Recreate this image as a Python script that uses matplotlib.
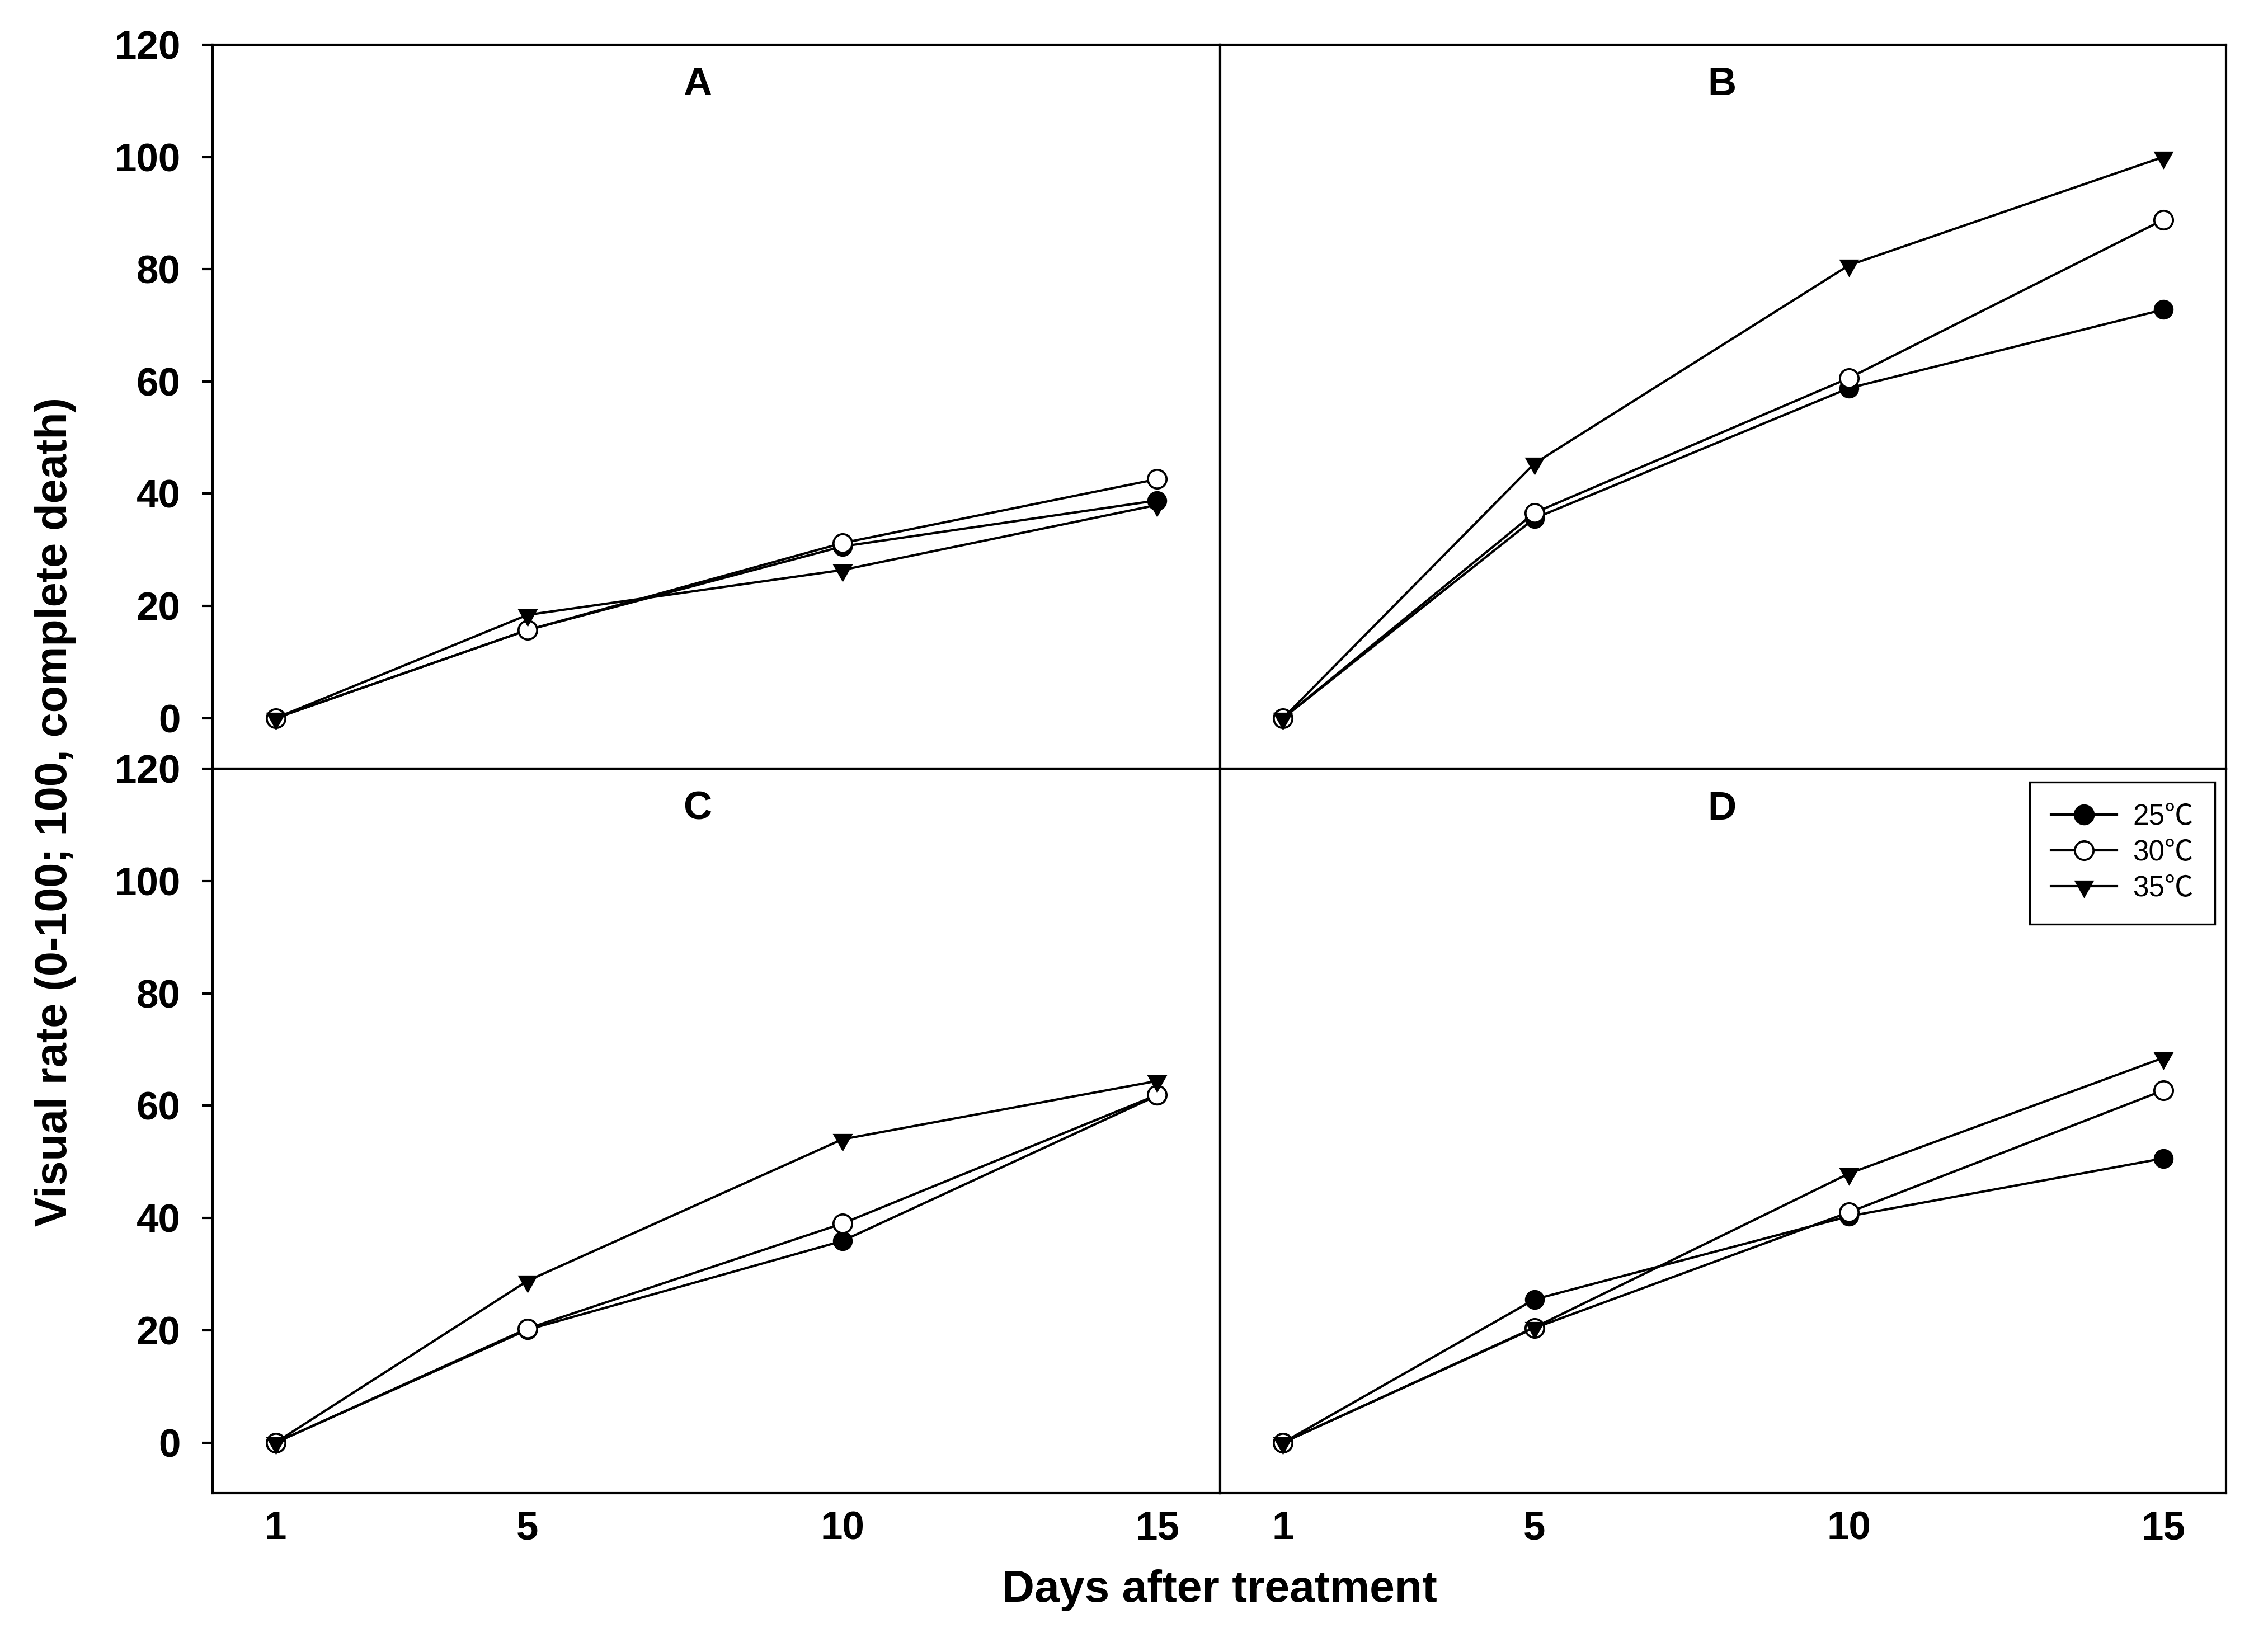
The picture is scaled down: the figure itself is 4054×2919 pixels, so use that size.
import matplotlib
matplotlib.use('Agg')
import matplotlib.pyplot as plt
from matplotlib.lines import Line2D

# days after treatment
days = [1, 5, 10, 15]

# visual rate for each panel, per temperature
a_25 = [0, 15.7, 30.6, 38.8]
a_30 = [0, 15.7, 31.2, 42.6]
a_35 = [0, 18.4, 26.4, 38.0]

b_25 = [0, 35.6, 58.8, 72.8]
b_30 = [0, 36.6, 60.6, 88.8]
b_35 = [0, 45.4, 80.7, 100.0]

c_25 = [0, 20.1, 35.9, 61.8]
c_30 = [0, 20.3, 39.0, 61.9]
c_35 = [0, 28.8, 54.0, 64.4]

d_25 = [0, 25.5, 40.3, 50.6]
d_30 = [0, 20.4, 41.0, 62.7]
d_35 = [0, 20.5, 47.9, 68.5]

panel_names = ['A', 'B', 'C', 'D']
temp_labels = ['25℃', '30℃', '35℃']
y_ticks = [0, 20, 40, 60, 80, 100, 120]
x_ticks = [1, 5, 10, 15]

plt.rcParams['font.family'] = ['Liberation Sans', 'Noto Sans CJK SC', 'DejaVu Sans']

# down triangle centred on its centroid (like the original symbol)
tri = [(-18, 10.67), (18, 10.67), (0, -21.33), (-18, 10.67)]
tri_ms = 10.2

fig = plt.figure(figsize=(4054 / 300, 2919 / 300), dpi=300)

# axes boxes in figure fractions (left, bottom, width, height)
x0, xm, x1 = 0.09374, 0.53800, 0.98150
y0, ym, y1 = 0.08565, 0.52929, 0.97259
boxes = [
    (x0, ym, xm - x0, y1 - ym),
    (xm, ym, x1 - xm, y1 - ym),
    (x0, y0, xm - x0, ym - y0),
    (xm, y0, x1 - xm, ym - y0),
]
data = [
    (a_25, a_30, a_35),
    (b_25, b_30, b_35),
    (c_25, c_30, c_35),
    (d_25, d_30, d_35),
]
letter_x = [0.481, 0.499, 0.481, 0.499]

lw = 1.0
for i, box in enumerate(boxes):
    ax = fig.add_axes(box)
    s25, s30, s35 = data[i]
    # drawing order: 25, 30, 35 (last one on top)
    ax.plot(days, s25, color='black', lw=lw, marker='o', ms=8, mfc='black',
            mec='black', mew=0.5, zorder=3)
    ax.plot(days, s30, color='black', lw=lw, marker='o', ms=8, mfc='white',
            mec='black', mew=0.9, zorder=4)
    ax.plot(days, s35, color='black', lw=lw, marker=tri, ms=tri_ms, mfc='black',
            mec='black', mew=0, zorder=5)

    ax.set_xlim(0, 16)
    ax.set_ylim(-9, 120)
    for sp in ax.spines.values():
        sp.set_linewidth(1.0)

    ax.set_xticks(x_ticks)
    ax.set_yticks(y_ticks)
    ax.tick_params(axis='x', length=0, pad=7.5, labelsize=17)
    ax.tick_params(axis='y', direction='out', length=4.6, width=1.0, pad=9.2,
                   labelsize=17)
    for lab in ax.get_xticklabels() + ax.get_yticklabels():
        lab.set_fontweight('bold')

    if i < 2:
        ax.tick_params(axis='x', labelbottom=False)
    if i % 2 == 1:
        ax.tick_params(axis='y', left=False, labelleft=False)

    ax.text(letter_x[i], 0.944, panel_names[i], transform=ax.transAxes,
            ha='center', va='center', fontsize=17, fontweight='bold')

    if i == 3:
        handles = [
            Line2D([], [], color='black', lw=lw, marker='o', ms=8, mfc='black', mec='black'),
            Line2D([], [], color='black', lw=lw, marker='o', ms=8, mfc='white', mec='black', mew=0.9),
            Line2D([], [], color='black', lw=lw, marker=tri, ms=tri_ms, mfc='black', mec='black', mew=0),
        ]
        leg = ax.legend(handles, temp_labels, loc='upper right',
                        bbox_to_anchor=(0.989, 0.9815), fontsize=12.3,
                        frameon=True, fancybox=False, edgecolor='black',
                        framealpha=1, borderaxespad=0, handlelength=2.3,
                        handletextpad=0.55, labelspacing=0.29, borderpad=0.75)
        leg.get_frame().set_linewidth(0.8)

fig.text(0.0242, 0.503, 'Visual rate (0-100; 100, complete death)',
         rotation=90, ha='center', va='center', fontsize=19, fontweight='bold')
fig.text((x0 + x1) / 2, 1 - 2843 / 2919, 'Days after treatment',
         ha='center', va='center', fontsize=19.3, fontweight='bold')

fig.savefig('out.png', dpi=300)
